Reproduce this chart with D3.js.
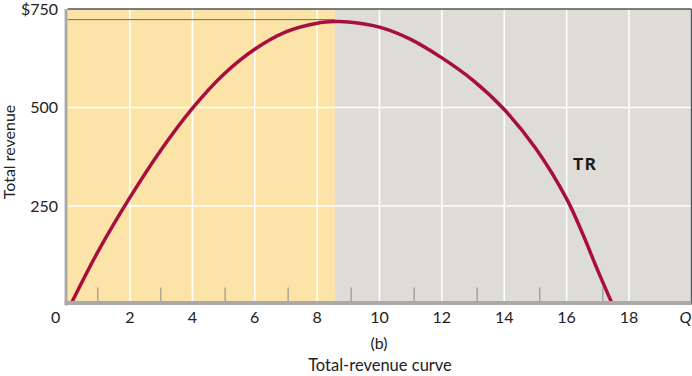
<!DOCTYPE html>
<html>
<head>
<meta charset="utf-8">
<script src="https://cdn.jsdelivr.net/npm/d3@7"></script>
<style>
  html, body { margin: 0; padding: 0; background: #fff; }
  svg { display: block; font-family: "Lato", "Open Sans", sans-serif; }
</style>
</head>
<body>
<svg id="chart" width="692" height="376"></svg>
<script>
let WIDTH = 692, HEIGHT = 376;

// curve (quantity, total revenue $)
let quantity = [0.1, 1, 2, 3, 4, 5, 6, 7, 8, 8.6, 9, 10, 11, 12, 13, 14, 15, 16, 16.5, 17, 17.47];
let revenue  = [0, 138, 272, 393, 498, 584, 648, 692, 714, 718, 717, 704, 673, 626, 569, 495, 397, 268, 182, 86, 0];

let xGrid = [2, 4, 6, 8, 10, 12, 14, 16, 18];
let xLabels = ["2", "4", "6", "8", "10", "12", "14", "16", "18"];
// the small ticks sit slightly off the odd values in the original
let xMinor = [0.97, 2.99, 5.05, 7.07, 9.09, 11.11, 13.13, 15.14, 17.16];
let yGrid = [250, 500];
let yTicks = [250, 500, 750];
let yLabels = ["250", "500", "$750"];
let xDomain = [0, 20];
let yDomain = [0, 750];
let peakQ = 8.57;      // where the shading switches from yellow to grey
let peakLine = 723;    // thin guide line at max revenue

let svg = d3.select("#chart");

let x = d3.scaleLinear().domain(xDomain).range([67.6, 691.4]);
let y = d3.scaleLinear().domain(yDomain).range([304.5, 9]);

// background panels
svg.append("rect")
    .attr("x", x(0)).attr("y", y(750))
    .attr("width", x(peakQ) - x(0)).attr("height", y(0) - y(750))
    .attr("fill", "#fce4a8");
svg.append("rect")
    .attr("x", x(peakQ)).attr("y", y(750))
    .attr("width", x(20) - x(peakQ)).attr("height", y(0) - y(750))
    .attr("fill", "#dedcd7");

// white grid
svg.append("g").selectAll("line")
    .data(xGrid)
    .join("line")
    .attr("x1", d => x(d)).attr("x2", d => x(d))
    .attr("y1", y(750)).attr("y2", y(0))
    .attr("stroke", "#fff").attr("stroke-width", 1.5);
svg.append("g").selectAll("line")
    .data(yGrid)
    .join("line")
    .attr("x1", x(0)).attr("x2", x(20))
    .attr("y1", d => y(d)).attr("y2", d => y(d))
    .attr("stroke", "#fff").attr("stroke-width", 1.5);

// small tick marks between the labelled values
svg.append("g").selectAll("line")
    .data(xMinor)
    .join("line")
    .attr("x1", d => x(d)).attr("x2", d => x(d))
    .attr("y1", y(0) - 17).attr("y2", y(0) - 2)
    .attr("stroke", "#888").attr("stroke-width", 1);

// frame: top / right thin dark
svg.append("line")
    .attr("x1", x(0)).attr("x2", x(20))
    .attr("y1", y(750)).attr("y2", y(750))
    .attr("stroke", "#555").attr("stroke-width", 1.5);
svg.append("line")
    .attr("x1", x(20)).attr("x2", x(20))
    .attr("y1", y(750)).attr("y2", y(0))
    .attr("stroke", "#555").attr("stroke-width", 1.2);

// max revenue guide
svg.append("line")
    .attr("x1", x(0)).attr("x2", x(peakQ))
    .attr("y1", y(peakLine)).attr("y2", y(peakLine))
    .attr("stroke", "#6b6b6b").attr("stroke-width", 1);

// TR curve
let pts = quantity.map((q, i) => [q, revenue[i]]);
let line = d3.line()
    .x(d => x(d[0]))
    .y(d => y(d[1]))
    .curve(d3.curveCatmullRom.alpha(0.5));
svg.append("path")
    .datum(pts)
    .attr("d", line)
    .attr("fill", "none")
    .attr("stroke", "#a80f40")
    .attr("stroke-width", 3.5);

// left / bottom thick grey axes
svg.append("line")
    .attr("x1", x(0) - 1.5).attr("x2", x(0) - 1.5)
    .attr("y1", y(750)).attr("y2", y(0) + 1)
    .attr("stroke", "#a9a9a9").attr("stroke-width", 3);
svg.append("line")
    .attr("x1", x(0) - 3).attr("x2", x(20))
    .attr("y1", y(0) - 1.5).attr("y2", y(0) - 1.5)
    .attr("stroke", "#a9a9a9").attr("stroke-width", 4);

// TR label
svg.append("text")
    .attr("x", 573).attr("y", 169.5)
    .attr("font-size", 17).attr("font-weight", 900)
    .attr("letter-spacing", 1.6)
    .attr("fill", "#1a1a1a")
    .text("TR");

// y tick labels
svg.append("g").selectAll("text")
    .data(yTicks)
    .join("text")
    .attr("x", 58)
    .attr("y", d => y(d) + 1.5)
    .attr("text-anchor", "end")
    .attr("dominant-baseline", "middle")
    .attr("font-size", 16)
    .attr("fill", "#222")
    .text((d, i) => yLabels[i]);

// x tick labels
svg.append("g").selectAll("text")
    .data(xGrid)
    .join("text")
    .attr("x", d => x(d))
    .attr("y", 319)
    .attr("text-anchor", "middle")
    .attr("dominant-baseline", "middle")
    .attr("font-size", 16)
    .attr("fill", "#222")
    .text((d, i) => xLabels[i]);
svg.append("text")
    .attr("x", x(0) - 12).attr("y", 319)
    .attr("text-anchor", "middle")
    .attr("dominant-baseline", "middle")
    .attr("font-size", 16).attr("fill", "#222")
    .text("0");
svg.append("text")
    .attr("x", x(20) - 6).attr("y", 319)
    .attr("text-anchor", "middle")
    .attr("dominant-baseline", "middle")
    .attr("font-size", 16).attr("font-style", "italic").attr("fill", "#222")
    .text("Q");

// titles
svg.append("text")
    .attr("transform", "translate(11, 152) rotate(-90)")
    .attr("text-anchor", "middle")
    .attr("dominant-baseline", "middle")
    .attr("font-size", 16).attr("fill", "#222")
    .text("Total revenue");
svg.append("text")
    .attr("x", 379).attr("y", 345)
    .attr("text-anchor", "middle")
    .attr("dominant-baseline", "middle")
    .attr("font-size", 16).attr("fill", "#222")
    .text("(b)");
svg.append("text")
    .attr("x", 380).attr("y", 367)
    .attr("text-anchor", "middle")
    .attr("dominant-baseline", "middle")
    .attr("font-size", 16.5).attr("fill", "#222")
    .text("Total-revenue curve");
</script>
</body>
</html>
